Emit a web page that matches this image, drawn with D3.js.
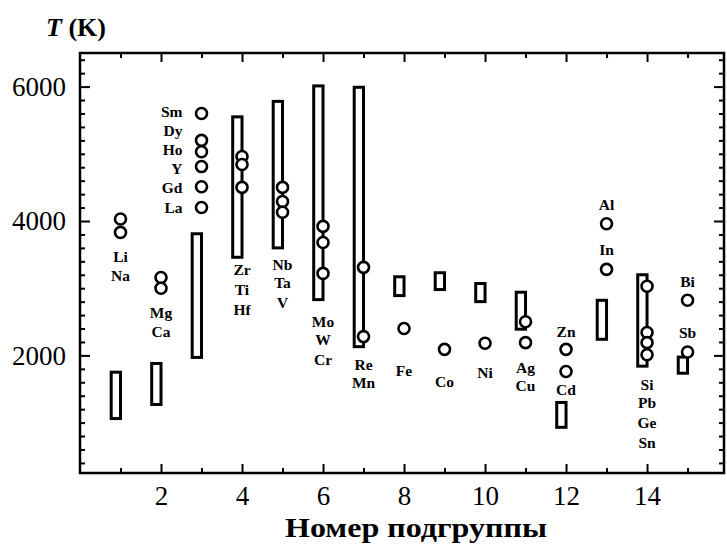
<!DOCTYPE html>
<html>
<head>
<meta charset="utf-8">
<script src="https://cdn.jsdelivr.net/npm/d3@7"></script>
<style>
  body { margin: 0; background: #fff; }
  svg { display: block; font-family: "Liberation Serif", "DejaVu Serif", serif; }
</style>
</head>
<body>
<svg width="727" height="548"></svg>
<script>
const svg = d3.select("svg");

// ---- data ----
const subgroups = [1, 2, 3, 4, 5, 6, 7, 8, 9, 10, 11, 12, 13, 14, 15];
const rangeLow  = [1060, 1270, 1970, 3460, 3600, 2830, 2130, 2890, 2980, 2800, 2390, 930, 2240, 1840, 1735];
const rangeHigh = [1750, 1880, 3810, 5550, 5780, 6010, 5990, 3170, 3230, 3070, 2940, 1300, 2820, 3200, 1975];

// circles: [subgroup, T]
const points = [
    [1, 4030], [1, 3830],
    [2, 3160], [2, 3000],
    [3, 5600], [3, 5200], [3, 5030], [3, 4810], [3, 4510], [3, 4200],
    [4, 4960], [4, 4840], [4, 4500],
    [5, 4500], [5, 4290], [5, 4130],
    [6, 3920], [6, 3680], [6, 3220],
    [7, 3310], [7, 2280],
    [8, 2400],
    [9, 2090],
    [10, 2180],
    [11, 2500], [11, 2190],
    [12, 2090], [12, 1760],
    [13, 3960], [13, 3280],
    [14, 3030], [14, 2340], [14, 2190], [14, 2010],
    [15, 2820], [15, 2050]
];

// element labels: [subgroup, text, T where the label sits]
const labels = [
    [1, "Li", 3470], [1, "Na", 3190],
    [2, "Mg", 2640], [2, "Ca", 2360],
    [3, "Sm", 5630], [3, "Dy", 5350], [3, "Ho", 5060], [3, "Y", 4780], [3, "Gd", 4500], [3, "La", 4200],
    [4, "Zr", 3280], [4, "Ti", 2980], [4, "Hf", 2685],
    [5, "Nb", 3350], [5, "Ta", 3085], [5, "V", 2790],
    [6, "Mo", 2505], [6, "W", 2240], [6, "Cr", 1940],
    [7, "Re", 1865], [7, "Mn", 1600],
    [8, "Fe", 1775],
    [9, "Co", 1615],
    [10, "Ni", 1745],
    [11, "Ag", 1820], [11, "Cu", 1555],
    [12, "Zn", 2355], [12, "Cd", 1495],
    [13, "Al", 4245], [13, "In", 3575],
    [14, "Si", 1570], [14, "Pb", 1300], [14, "Ge", 1005], [14, "Sn", 705],
    [15, "Bi", 3100], [15, "Sb", 2340]
];

const yTickLabels = [2000, 4000, 6000];
const xTickLabels = [2, 4, 6, 8, 10, 12, 14];

// ---- layout ----
const plot = { left: 80, right: 724, top: 53, bottom: 473 };

const x = d3.scaleLinear().domain([0, 15.9]).range([plot.left, plot.right]);
const y = d3.scaleLinear().domain([250, 6500]).range([plot.bottom, plot.top]);

const boxHalf = 0.23;

// ---- axes (ticks point inward on all four sides) ----
const yMinor = d3.range(400, 6500, 200).filter(v => !yTickLabels.includes(v));
const xMinor = d3.range(1, 16).filter(v => !xTickLabels.includes(v));

function axisGroup(axis, tx, ty) {
    const g = svg.append("g")
        .attr("transform", `translate(${tx},${ty})`)
        .call(axis);
    g.select(".domain").remove();
    g.selectAll(".tick line").attr("stroke", "#000").attr("stroke-width", 2);
    return g;
}

// left
axisGroup(d3.axisLeft(y).tickValues(yMinor).tickSize(-5).tickFormat(""), plot.left, 0);
axisGroup(d3.axisLeft(y).tickValues(yTickLabels).tickSize(-10).tickPadding(14).tickFormat(d3.format("d")), plot.left, 0)
    .selectAll("text")
    .attr("font-size", 27)
    .attr("font-family", "Liberation Serif")
    .attr("fill", "#000");
// right
axisGroup(d3.axisRight(y).tickValues(yMinor).tickSize(-5).tickFormat(""), plot.right, 0);
axisGroup(d3.axisRight(y).tickValues(yTickLabels).tickSize(-10).tickFormat(""), plot.right, 0);
// bottom
axisGroup(d3.axisBottom(x).tickValues(xMinor).tickSize(-5).tickFormat(""), 0, plot.bottom);
axisGroup(d3.axisBottom(x).tickValues(xTickLabels).tickSize(-9).tickPadding(13).tickFormat(d3.format("d")), 0, plot.bottom)
    .selectAll("text")
    .attr("font-size", 27)
    .attr("font-family", "Liberation Serif")
    .attr("fill", "#000");
// top
axisGroup(d3.axisTop(x).tickValues(xMinor).tickSize(-5).tickFormat(""), 0, plot.top);
axisGroup(d3.axisTop(x).tickValues(xTickLabels).tickSize(-9).tickFormat(""), 0, plot.top);

// frame
svg.append("rect")
    .attr("x", plot.left)
    .attr("y", plot.top)
    .attr("width", plot.right - plot.left)
    .attr("height", plot.bottom - plot.top)
    .attr("fill", "none")
    .attr("stroke", "#000")
    .attr("stroke-width", 2.5);

// ---- ranges (rectangles) ----
svg.append("g")
    .selectAll("rect")
    .data(subgroups)
    .join("rect")
    .attr("x", (d) => x(d - boxHalf))
    .attr("width", x(boxHalf) - x(0))
    .attr("y", (d, i) => y(rangeHigh[i]))
    .attr("height", (d, i) => y(rangeLow[i]) - y(rangeHigh[i]))
    .attr("fill", "#fff")
    .attr("stroke", "#000")
    .attr("stroke-width", 3);

// ---- circles ----
svg.append("g")
    .selectAll("circle")
    .data(points)
    .join("circle")
    .attr("cx", d => x(d[0]))
    .attr("cy", d => y(d[1]))
    .attr("r", 5.5)
    .attr("fill", "#fff")
    .attr("stroke", "#000")
    .attr("stroke-width", 2.6);

// ---- element labels ----
svg.append("g")
    .selectAll("text")
    .data(labels)
    .join("text")
    .attr("x", d => d[0] === 3 ? x(d[0] - 0.47) : x(d[0]))
    .attr("y", d => y(d[2]))
    .attr("dy", "0.35em")
    .attr("text-anchor", d => d[0] === 3 ? "end" : "middle")
    .attr("font-size", 15.5)
    .attr("font-weight", "bold")
    .text(d => d[1]);

// ---- axis titles ----
const yTitle = svg.append("text")
    .attr("x", 46)
    .attr("y", 36)
    .attr("font-size", 26)
    .attr("font-weight", "bold");
yTitle.append("tspan").attr("font-style", "italic").text("T");
yTitle.append("tspan").text(" (K)");

svg.append("text")
    .attr("x", 416)
    .attr("y", 537)
    .attr("text-anchor", "middle")
    .attr("font-size", 28)
    .attr("font-weight", "bold")
    .attr("textLength", 262)
    .attr("lengthAdjust", "spacingAndGlyphs")
    .text("Номер подгруппы");
</script>
</body>
</html>
